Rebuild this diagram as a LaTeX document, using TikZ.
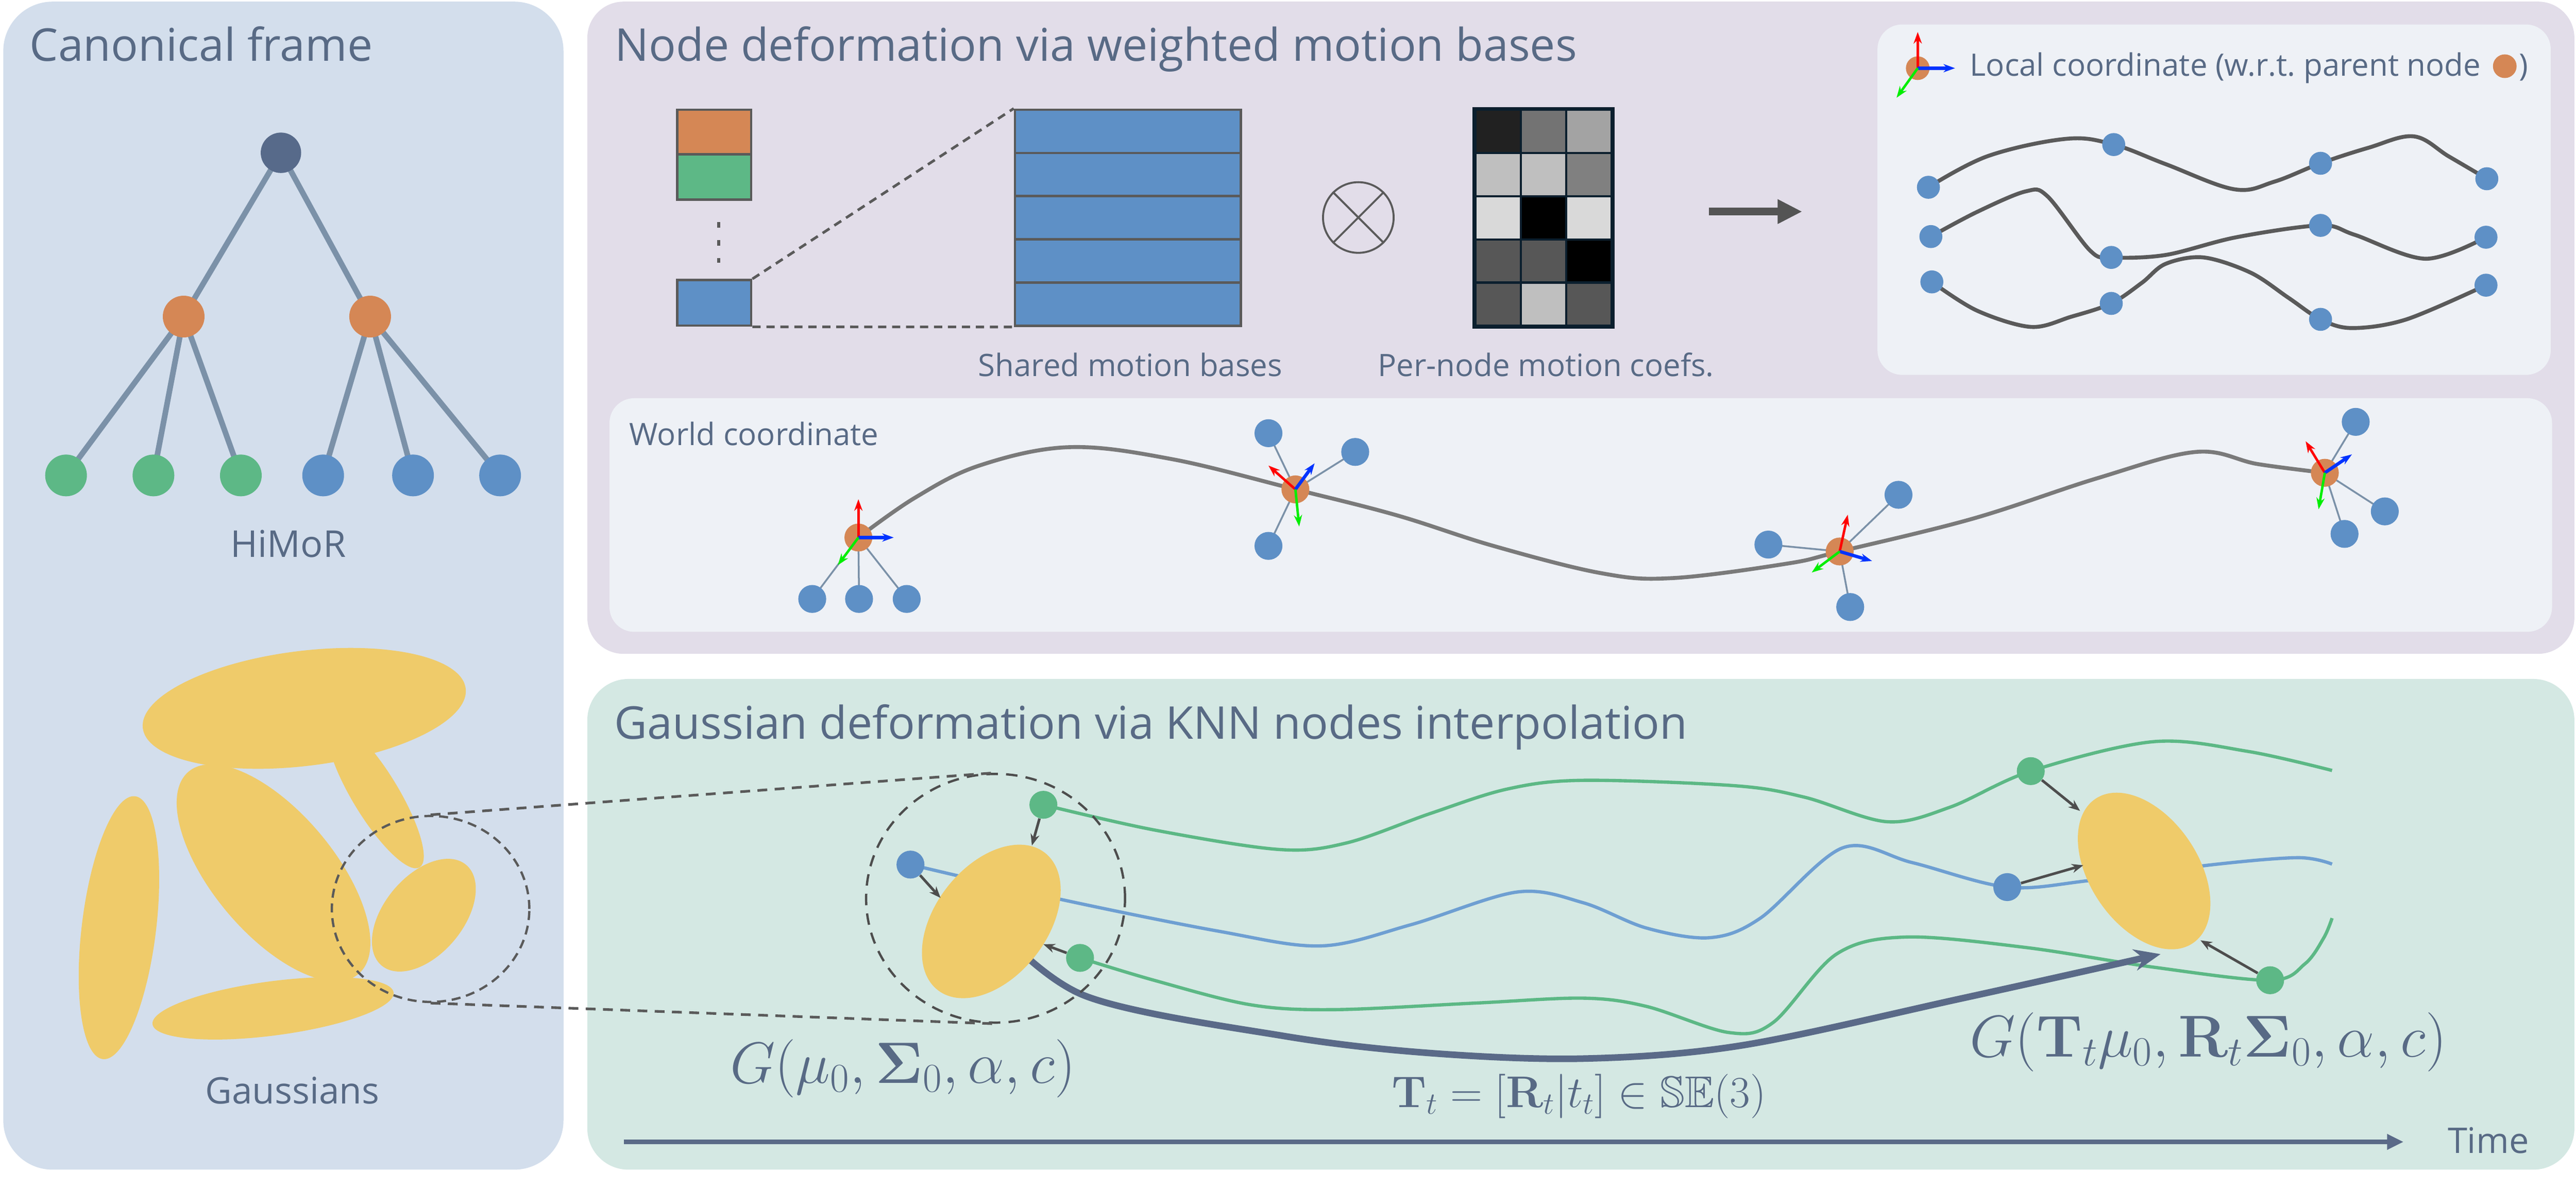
\RequirePackage{fix-cm}
\documentclass[tikz,border=0pt]{standalone}
\usepackage{amsmath,amssymb}
\usepackage[no-math]{fontspec}
\setmainfont{Open Sans}
\usetikzlibrary{shapes.geometric,arrows.meta,calc}
\pgfdeclarelayer{panel}
\pgfdeclarelayer{edge}
\pgfsetlayers{panel,edge,main}
\definecolor{txt}{HTML}{586A85}
\definecolor{panelA}{HTML}{D3DEEC}
\definecolor{panelB}{HTML}{E2DDE9}
\definecolor{panelC}{HTML}{D4E8E3}
\definecolor{innerbox}{HTML}{EEF1F6}
\definecolor{cRoot}{HTML}{576A8A}
\definecolor{cOr}{HTML}{D58755}
\definecolor{cGr}{HTML}{5DB886}
\definecolor{cBl}{HTML}{5E90C6}
\definecolor{cEdge}{HTML}{7B91A8}
\definecolor{gauss}{HTML}{EFCB6A}
\definecolor{dgray}{HTML}{5A5A5A}
\definecolor{kgray}{HTML}{4D4D4D}
\definecolor{cNavy}{HTML}{0B1F2E}
\definecolor{blcurve}{HTML}{6E9FD2}
\definecolor{grcurve}{HTML}{5CB885}
\definecolor{slate}{HTML}{5A6A88}
\definecolor{wgray}{HTML}{7A7A7A}
\definecolor{axR}{HTML}{FF0000}
\definecolor{axB}{HTML}{0033FF}
\definecolor{axG}{HTML}{00EE00}
\begin{document}
\begin{tikzpicture}[x=1pt,y=-1pt,
  ttl/.style={anchor=base west, inner sep=0pt, text=txt, font=\fontsize{27.5}{30}\selectfont},
  lbl/.style={anchor=base, inner sep=0pt, text=txt, font=\fontsize{22.5}{26}\selectfont},
  sub/.style={inner sep=0pt, text=txt, font=\fontsize{18.8}{22}\selectfont},
  pdot/.style={circle, inner sep=0pt, minimum size=#1},
  treeedge/.style={cEdge, line width=3.4pt},
  zoomdash/.style={dgray, line width=1.6pt, dash pattern=on 6pt off 4.5pt},
  basecell/.style={rectangle, draw=dgray, line width=1.5pt, fill=cBl, minimum width=137.6pt, minimum height=26.3pt, inner sep=0pt},
  coef/.style={rectangle, draw=cNavy, line width=1.3pt, minimum width=27.7pt, minimum height=26.3pt, inner sep=0pt, fill=#1},
  axisarrow/.style={line width=1.5pt, -{Stealth[length=7pt,width=5pt]}},
  lcurve/.style={dgray, line width=2.4pt},
  wline/.style={wgray, line width=2.4pt},
  spoke/.style={cEdge, line width=1.1pt},
  knn/.style={kgray, line width=1.6pt, -{Stealth[length=7pt,width=5.5pt]}},
  gnode/.style={ellipse, fill=gauss, inner sep=0pt},
  mathlbl/.style={anchor=base west, inner sep=0pt, text=txt}
]
\useasboundingbox (0,0) rectangle (1568,723.7);

% ---------------- panels ----------------
\begin{pgfonlayer}{panel}
\fill[panelA, rounded corners=30pt] (2,1) rectangle (343,712);
\fill[panelB, rounded corners=22pt] (357.5,1) rectangle (1567,398);
\fill[panelC, rounded corners=25pt] (357.5,413.3) rectangle (1567,712);
\fill[innerbox, rounded corners=15pt] (1142.8,14.9) rectangle (1552.6,228.2);
\fill[innerbox, rounded corners=15pt] (371,242.4) rectangle (1553.4,384.6);
\end{pgfonlayer}

% ---------------- titles ----------------
\node[ttl] (t1) at (17.9,37.3) {Canonical frame};
\node[ttl] (t2) at (374,37.3) {Node deformation via weighted motion bases};
\node[ttl] (t3) at (373.9,449.9) {Gaussian deformation via KNN nodes interpolation};

% ---------------- HiMoR tree ----------------
\node[pdot=24.6pt, fill=cRoot] (root) at (171,93) {};
\node[pdot=25.4pt, fill=cOr] (m1) at (111.8,192.7) {};
\node[pdot=25.4pt, fill=cOr] (m2) at (225.3,192.7) {};
\node[pdot=25.4pt, fill=cGr] (l1) at (40.2,289.4) {};
\node[pdot=25.4pt, fill=cGr] (l2) at (93.4,289.4) {};
\node[pdot=25.4pt, fill=cGr] (l3) at (146.6,289.4) {};
\node[pdot=25.4pt, fill=cBl] (l4) at (196.7,289.4) {};
\node[pdot=25.4pt, fill=cBl] (l5) at (251.4,289.4) {};
\node[pdot=25.4pt, fill=cBl] (l6) at (304.4,289.4) {};
\begin{pgfonlayer}{edge}
\draw[treeedge] (root.center) -- (m1.center);
\draw[treeedge] (root.center) -- (m2.center);
\draw[treeedge] (m1.center) -- (l1.center);
\draw[treeedge] (m1.center) -- (l2.center);
\draw[treeedge] (m1.center) -- (l3.center);
\draw[treeedge] (m2.center) -- (l4.center);
\draw[treeedge] (m2.center) -- (l5.center);
\draw[treeedge] (m2.center) -- (l6.center);
\end{pgfonlayer}
\node[lbl] (himor) at (175.5,339) {HiMoR};

% ---------------- canonical Gaussians ----------------
\fill[gauss, rotate around={-58.7:(228.5,483.7)}] (228.5,483.7) ellipse (51.8 and 14);
\fill[gauss, rotate around={7:(185.2,431.2)}] (185.2,431.2) ellipse (99 and 35);
\fill[gauss, rotate around={-7:(72.4,564.7)}] (72.4,564.7) ellipse (22.6 and 80.6);
\fill[gauss, rotate around={7.5:(166.2,613.8)}] (166.2,613.8) ellipse (74 and 16.5);
\fill[gauss, rotate around={-50:(166.5,531.3)}] (166.5,531.3) ellipse (80.4 and 37);
\fill[gauss, rotate around={50:(258,557.1)}] (258,557.1) ellipse (40 and 24);
\node[lbl, font=\fontsize{22.3}{26}\selectfont] (gsl) at (178,671.8) {Gaussians};
\node[ellipse, draw=dgray, line width=1.4pt, dash pattern=on 5.5pt off 3.5pt, minimum width=120.2pt, minimum height=113.2pt, inner sep=0pt] (cl) at (262.1,553.3) {};

% ---------------- motion bases ----------------
\node[basecell, minimum width=45pt, minimum height=27.2pt, fill=cOr] (vo) at (434.75,80.4) {};
\node[basecell, minimum width=45pt, minimum height=27.4pt, fill=cGr] (vg) at (434.75,107.7) {};
\node[basecell, minimum width=45pt, minimum height=27.7pt, fill=cBl] (vb) at (434.75,184.35) {};
\draw[dgray, line width=2pt, dash pattern=on 3.5pt off 7.5pt] (437.4,135.2) -- (437.4,160);
\foreach \r in {1,...,5} {
  \node[basecell] (s\r) at (686.6,{79.95+26.3*(\r-1)}) {};
}
\draw[dgray, line width=1.6pt, dash pattern=on 5pt off 3.5pt] (vb.north east) -- (s1.north west);
\draw[dgray, line width=1.6pt, dash pattern=on 5pt off 3.5pt] (vb.south east) -- (s5.south west);
\node[circle, draw=dgray, line width=1.2pt, minimum size=43pt, inner sep=0pt] (ot) at (826.8,132.4) {};
\draw[dgray, line width=1.2pt] (ot.north west) -- (ot.south east);
\draw[dgray, line width=1.2pt] (ot.north east) -- (ot.south west);
\foreach \r/\a/\b/\c in {1/87/55/36, 2/25/25/50, 3/15/100/15, 4/66/66/100, 5/66/25/66} {
  \node[coef=black!\a] (k\r a) at (911.85,{79.95+26.3*(\r-1)}) {};
  \node[coef=black!\b] (k\r b) at (939.55,{79.95+26.3*(\r-1)}) {};
  \node[coef=black!\c] (k\r c) at (967.25,{79.95+26.3*(\r-1)}) {};
}
\draw[cNavy, line width=2pt] (k1a.north west) rectangle (k5c.south east);
\coordinate (ar0) at (1040.3,128.8);
\coordinate (ar1) at (1097,128.8);
\draw[black!67, line width=4.8pt, -{Triangle[length=15pt,width=14pt]}] (ar0) -- (ar1);
\node[sub, anchor=base] (lsh) at (688,229) {Shared motion bases};
\node[sub, anchor=base] (lpn) at (941,229) {Per-node motion coefs.};

% ---------------- local coordinate ----------------
\node[pdot=14.4pt, fill=cOr] (lo) at (1167.3,41.5) {};
\coordinate (lor) at (1167.3,19.5);
\coordinate (lob) at (1190,41.5);
\coordinate (log) at (1154.4,59.5);
\draw[axisarrow, axR] (lo.center) -- (lor);
\draw[axisarrow, axB, line width=2pt] (lo.center) -- (lob);
\draw[axisarrow, axG] (lo.center) -- (log);
\node[sub, anchor=base west] (lt) at (1198.9,46.4) {Local coordinate (w.r.t.\ parent node};
\path (lt.base east) ++(14.4,-6.1) node[pdot=14.4pt, fill=cOr] (ld) {};
\path (ld.east |- lt.base) ++(1.2,0) node[sub, anchor=base west] (lp) {)};

\foreach \n/\x/\y in {11/1173.8/114, 12/1286.6/88, 13/1412.5/99.4, 14/1513.7/108.8,
                      21/1175.3/144, 22/1285.1/156.7, 23/1412.5/137.2, 24/1513.2/144.4,
                      31/1175.9/171.6, 32/1285.1/184.7, 33/1412.5/194.4, 34/1513.2/173.6} {
  \node[pdot=14pt, fill=cBl] (ln\n) at (\x,\y) {};
}
\begin{pgfonlayer}{edge}
\draw[lcurve] plot[smooth, tension=0.6] coordinates {(ln11.center) (1210,95) (1257.8,84.5) (ln12.center) (1318.2,99.9) (1359.9,115.2) (1384.3,110.6) (ln13.center) (1441.8,89.9) (1469.2,83) (1490.7,95.3) (ln14.center)};
\draw[lcurve] plot[smooth, tension=0.55] coordinates {(ln21.center) (1203.2,129.1) (1233,116.5) (1246.3,119.5) (1272.2,152.5) (ln22.center) (1318.2,155.2) (1361.3,144.4) (ln23.center) (1433.2,142.9) (1476.4,157.5) (ln24.center)};
\draw[lcurve] plot[smooth, tension=0.55] coordinates {(ln31.center) (1203.2,189) (1236.2,199) (1260.7,192.8) (ln32.center) (1303.8,172.1) (1318.2,160.6) (1341.2,156.7) (1370,166) (1393,181.3) (ln33.center) (1431.8,199.7) (1464.8,194.4) (ln34.center)};
\end{pgfonlayer}

% ---------------- world coordinate ----------------
\node[sub, anchor=base west] (wt) at (382.9,271.2) {World coordinate};
\node[pdot=17pt, fill=cOr] (o1) at (522.5,327.2) {};
\node[pdot=17pt, fill=cOr] (o2) at (788.5,297.9) {};
\node[pdot=17pt, fill=cOr] (o3) at (1119.8,335.7) {};
\node[pdot=17pt, fill=cOr] (o4) at (1415.1,287.8) {};
\foreach \n/\x/\y in {11/494.4/364.6, 12/522.9/364.6, 13/551.9/364.6,
                      21/772.1/263.7, 22/824.9/275.1, 23/772.1/332.3,
                      31/1076.4/331.5, 32/1155.6/301.2, 33/1126.2/369.5,
                      41/1433.9/256.8, 42/1451.6/311.3, 43/1427.1/325} {
  \node[pdot=17pt, fill=cBl] (w\n) at (\x,\y) {};
}
\begin{pgfonlayer}{edge}
\foreach \p in {1,2,3,4} {
  \foreach \c in {1,2,3} {
    \draw[spoke] (o\p.center) -- (w\p\c.center);
  }
}
\draw[wline] plot[smooth, tension=0.6] coordinates {(o1.center) (556.9,303) (596.1,283.4) (650.8,272.2) (713.4,279.5) (o2.center) (850.3,313.7) (909,332.3) (974.6,348.9) (1018,351.9) (1087.7,343.1) (o3.center) (1200.9,315.7) (1276.3,291.2) (1336.6,275.1) (1374.3,282.5) (o4.center)};
\end{pgfonlayer}
\coordinate (o1r) at (522.5,303.9);
\coordinate (o1b) at (544,327.2);
\coordinate (o1g) at (510,344);
\coordinate (o2r) at (772.1,283.4);
\coordinate (o2b) at (800.2,282);
\coordinate (o2g) at (790.8,320.5);
\coordinate (o3r) at (1124.7,313.3);
\coordinate (o3b) at (1139.5,341.5);
\coordinate (o3g) at (1102.8,348.5);
\coordinate (o4r) at (1403.4,268.6);
\coordinate (o4b) at (1431.6,276.6);
\coordinate (o4g) at (1411.3,310);
\foreach \p in {1,2,3,4} {
  \draw[axisarrow, axR] (o\p.center) -- (o\p r);
  \draw[axisarrow, axB, line width=2pt] (o\p.center) -- (o\p b);
  \draw[axisarrow, axG] (o\p.center) -- (o\p g);
}

% ---------------- Gaussian deformation ----------------
\node[gnode, minimum width=106pt, minimum height=68pt, rotate=52] (gl) at (603.4,560.9) {};
\node[gnode, minimum width=106pt, minimum height=66pt, rotate=124] (gr) at (1305.1,530.2) {};
\node[pdot=17pt, fill=cGr] (gn1) at (635.1,489.9) {};
\node[pdot=17pt, fill=cBl] (bn1) at (554.2,526.3) {};
\node[pdot=17pt, fill=cGr] (gn3) at (657.4,583.1) {};
\node[pdot=17pt, fill=cGr] (gn2) at (1236.1,469.4) {};
\node[pdot=17pt, fill=cBl] (bn2) at (1221.8,540) {};
\node[pdot=17pt, fill=cGr] (gn4) at (1381.8,596.7) {};
\begin{pgfonlayer}{edge}
\draw[grcurve, line width=2pt] plot[smooth, tension=0.55] coordinates {(gn1.center) (702.4,505.2) (778.6,517.1) (819.7,513.1) (870.6,495.2) (917.5,480.3) (963.6,475) (1056.1,478.3) (1098.5,485.3) (1148.6,500.2) (1187.1,491.3) (gn2.center) (1310.5,451.5) (1368.3,457.4) (1419.5,469)};
\draw[blcurve, line width=2pt] plot[smooth, tension=0.55] coordinates {(bn1.center) (647.6,547.9) (741.5,566.8) (804.1,575.8) (858.8,562.9) (923.4,543) (963.6,549.5) (1002.1,564.9) (1040.7,570.8) (1071.5,558.9) (1121.6,516.1) (1164,525.1) (bn2.center) (1271.9,536) (1349,526.1) (1399.1,522.1) (1419.5,526)};
\draw[grcurve, line width=2pt] plot[smooth, tension=0.55] coordinates {(gn3.center) (702.4,596.7) (761,611.6) (811.9,614.6) (898,610.6) (963.6,607.6) (1002.1,612.6) (1052.2,628.5) (1079.2,622.5) (1117.8,580.8) (1160.2,570.4) (1233.4,576.8) (1310.5,588.7) (gn4.center) (1403,586.7) (1414.5,570.8) (1419.5,558.9)};
\draw[slate, line width=4pt, -{Stealth[length=16pt,width=13pt]}] plot[smooth, tension=0.55] coordinates {(gl.center) (660,606) (780.6,630.5) (870,641) (963.6,644.4) (1060,636.4) (1194.8,607.6) (1315.1,580.8)};
\end{pgfonlayer}
\coordinate (a1) at (628.1,514.7);
\coordinate (a2) at (572.5,546.6);
\coordinate (a3) at (635.1,574.8);
\coordinate (a4) at (1266.1,493.6);
\coordinate (a5) at (1268.1,526.7);
\coordinate (a6) at (1339.4,572.4);
\draw[knn] (gn1) -- (a1);
\draw[knn] (bn1) -- (a2);
\draw[knn] (gn3) -- (a3);
\draw[knn] (gn2) -- (a4);
\draw[knn] (bn2) -- (a5);
\draw[knn] (gn4) -- (a6);
\node[ellipse, draw=kgray, line width=1.4pt, dash pattern=on 7pt off 5pt, minimum width=157.6pt, minimum height=151.4pt, inner sep=0pt] (cb) at (606,546.8) {};
\draw[zoomdash] (cl.north) -- (cb.north);
\draw[zoomdash] (cl.south) -- (cb.south);

\node[mathlbl, font=\fontsize{35.5}{39}\selectfont] (lab0) at (444.3,659.3) {$G(\mu_0,\mathbf{\Sigma}_0,\alpha,c)$};
\node[mathlbl, font=\fontsize{36}{40}\selectfont] (labt) at (1198.7,643.4) {$G(\mathbf{T}_t\mu_0,\mathbf{R}_t\mathbf{\Sigma}_0,\alpha,c)$};
\node[mathlbl, font=\fontsize{27}{31}\selectfont] (labT) at (847,674.2) {$\mathbf{T}_t=[\mathbf{R}_t|t_t]\in\mathbb{SE}(3)$};

\coordinate (tm0) at (379.7,695.1);
\coordinate (tm1) at (1463,695.1);
\draw[slate, line width=2.8pt, -{Triangle[length=10pt,width=9pt]}] (tm0) -- (tm1);
\node[anchor=base west, inner sep=0pt, text=txt, font=\fontsize{21.5}{25}\selectfont] (time) at (1489.7,702) {Time};
\end{tikzpicture}
\end{document}
